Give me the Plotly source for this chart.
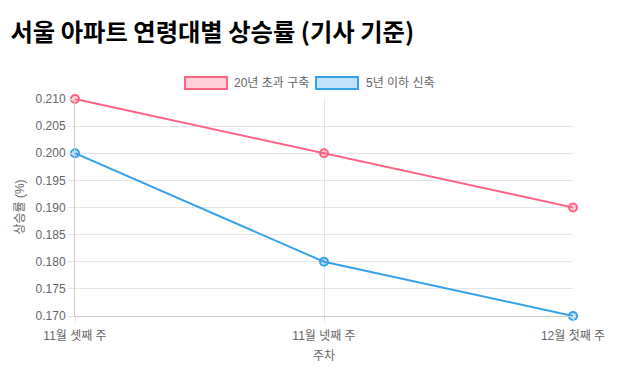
import plotly.graph_objects as go

categories = ["11월 셋째 주", "11월 넷째 주", "12월 첫째 주"]
old_values = [0.210, 0.200, 0.190]
new_values = [0.200, 0.180, 0.170]
series_names = ["20년 초과 구축", "5년 이하 신축"]
y_ticks = [0.170, 0.175, 0.180, 0.185, 0.190, 0.195, 0.200, 0.205, 0.210]

pink = "rgb(255,99,132)"
pink_fill = "rgba(255,99,132,0.3)"
blue = "rgb(54,162,235)"
blue_fill = "rgba(54,162,235,0.3)"

font_fam = "Liberation Sans, Arial, Noto Sans CJK KR, sans-serif"

fig = go.Figure()
for name, vals, col, fcol in [(series_names[0], old_values, pink, pink_fill),
                              (series_names[1], new_values, blue, blue_fill)]:
    fig.add_trace(go.Scatter(
        x=categories, y=vals, mode="lines+markers", name=name,
        line=dict(color=col, width=2),
        marker=dict(size=8, color=fcol, line=dict(color=col, width=2)),
        showlegend=False, cliponaxis=False,
    ))

# legend drawn as boxes + labels (Chart.js style)
legend_items = [
    (series_names[0], pink, pink_fill, 0.2209, 0.3052, 0.3153),
    (series_names[1], blue, blue_fill, 0.4839, 0.5683, 0.5803),
]
for name, col, fcol, x0, x1, tx in legend_items:
    fig.add_shape(type="rect", xref="paper", yref="paper", x0=x0, x1=x1,
                  y0=1.0461, y1=1.1014, fillcolor=fcol, line=dict(color=col, width=2))
    fig.add_annotation(text=name, xref="paper", yref="paper", x=tx, y=1.0737,
                       xanchor="left", yanchor="middle", showarrow=False,
                       font=dict(size=12, color="#666"))

# y-axis title as annotation (placed like Chart.js)
fig.add_annotation(text="상승률 (%)", xref="paper", yref="paper", x=-0.1124, y=0.5,
                   xanchor="center", yanchor="middle", textangle=-90, showarrow=False,
                   font=dict(size=12, color="#666"))

fig.update_layout(
    width=622, height=370,
    paper_bgcolor="white", plot_bgcolor="white",
    margin=dict(l=67, r=57, t=91, b=62),
    font=dict(family=font_fam, size=12, color="#666"),
    showlegend=False,
    title=dict(text="<b>서울 아파트 연령대별 상승률 (기사 기준)</b>",
               x=0.004, xanchor="left", y=0.935, yanchor="middle",
               font=dict(family="Noto Sans CJK KR, sans-serif", size=24.3, color="black")),
    xaxis=dict(type="category", range=[0, 2], showgrid=True, gridcolor="#e5e5e5",
               showline=True, linecolor="#ccc", ticks="outside", ticklen=6,
               tickcolor="#e5e5e5", zeroline=False, ticklabelstandoff=3,
               title=dict(text="주차", font=dict(size=12, color="#666"), standoff=9)),
    yaxis=dict(range=[0.170, 0.210], tickvals=y_ticks, tickformat=".3f",
               showgrid=True, gridcolor="#e5e5e5", showline=True, linecolor="#ccc",
               ticks="outside", ticklen=6, tickcolor="#e5e5e5", zeroline=False),
)

fig.write_html("out.html")
